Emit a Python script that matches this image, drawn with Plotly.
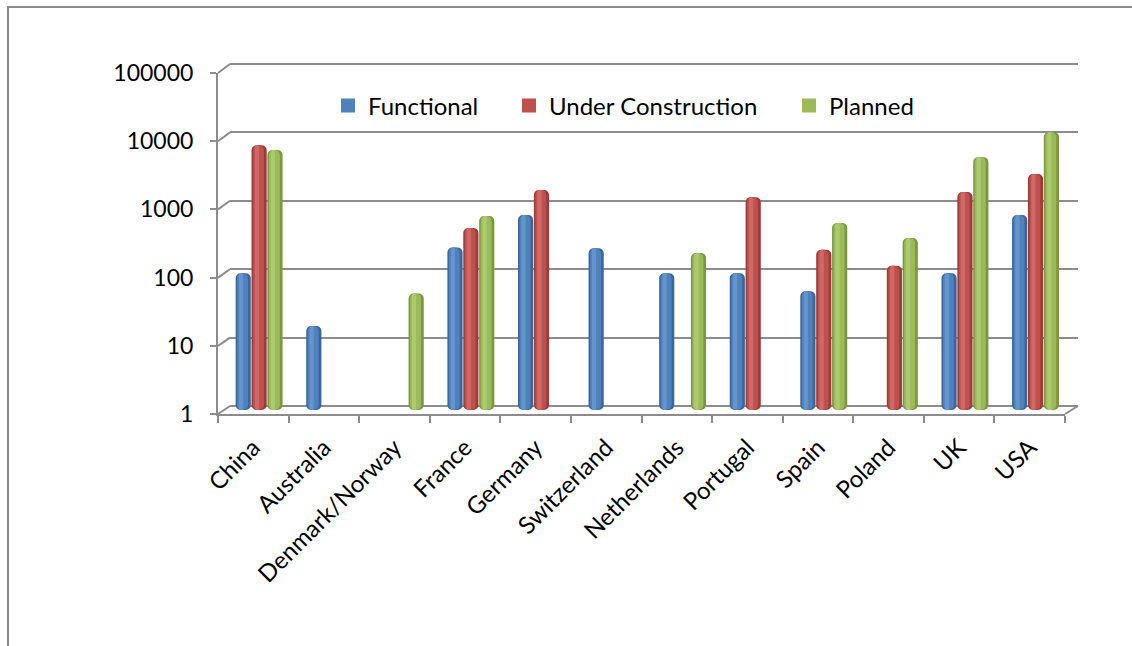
import plotly.graph_objects as go

# ---- data -------------------------------------------------------------
countries = ["China", "Australia", "Denmark/Norway", "France", "Germany",
             "Switzerland", "Netherlands", "Portugal", "Spain", "Poland",
             "UK", "USA"]
functional = [100, 16, None, 240, 720, 235, 100, 100, 54, None, 100, 720]
under_construction = [7600, None, None, 465, 1680, None, None, 1320, 222, 129, 1570, 2880]
planned = [6500, None, 50, 700, None, None, 200, None, 550, 332, 5100, 11900]

y_tickvals = [1, 10, 100, 1000, 10000, 100000]
y_ticktext = ["1", "10", "100", "1000", "10000", "100000"]

series_names = ["Functional", "Under Construction", "Planned"]

# ---- page geometry (pixels) -------------------------------------------
W, H = 1132, 646
FRONT = (218, 1065, 414, 73)   # x-left, x-right, y at 1, y at 100000
BACK = (230, 1078, 406, 64)
MID = (224, 1071, 410, 69)
GRID = "#8c8c8c"
FONT = "Lato"
DECADES = 5
WALL_PAD = 0.05   # extra decades around the back wall so edge gridlines survive


def px(x):
    return x / W


def py(y):
    return 1 - y / H


def xdom(p):
    return [px(p[0]), px(p[1])]


def ydom(p, pad=0.0):
    per_decade = (p[2] - p[3]) / DECADES
    return [py(p[2] + pad * per_decade), py(p[3] - pad * per_decade)]


# cylinder look: dark body, mid face, light highlight
palettes = [
    ("#3a669c", "#4f81bd", "#79a4d9"),
    ("#9c3b38", "#c0504d", "#d9807d"),
    ("#7a9841", "#9bbb59", "#bcd686"),
]
values = [functional, under_construction, planned]
offsets = [-0.335, -0.11, 0.115]
BW = 0.215

fig = go.Figure()

# placeholders so the back-wall and front-axis subplots are created
for xa, ya in (("x2", "y2"), ("x", "y")):
    fig.add_trace(go.Scatter(x=[countries[0]], y=[1], xaxis=xa, yaxis=ya,
                             mode="markers", marker=dict(opacity=0),
                             showlegend=False, hoverinfo="skip"))

legend_ids = ["legend", "legend2", "legend3"]
for i, (name, vals, (dark, mid, light)) in enumerate(zip(series_names, values, palettes)):
    o = offsets[i]
    fig.add_trace(go.Bar(x=countries, y=vals, xaxis="x3", yaxis="y3",
                         width=BW, offset=o, base=1,
                         marker=dict(color=dark, line=dict(width=0), cornerradius=5),
                         showlegend=False, hoverinfo="skip"))
    fig.add_trace(go.Bar(x=countries, y=vals, xaxis="x3", yaxis="y3",
                         width=BW * 0.72, offset=o + BW * 0.1, base=1,
                         name=name,
                         marker=dict(color=mid, line=dict(width=0), cornerradius=5),
                         showlegend=False))
    fig.add_trace(go.Bar(x=countries, y=vals, xaxis="x3", yaxis="y3",
                         width=BW * 0.28, offset=o + BW * 0.22, base=1,
                         marker=dict(color=light, line=dict(width=0), cornerradius=2),
                         opacity=0.55, showlegend=False, hoverinfo="skip"))
    # square legend key
    fig.add_trace(go.Scatter(x=[None], y=[None], xaxis="x3", yaxis="y3",
                             mode="markers", name=name, legend=legend_ids[i],
                             marker=dict(symbol="square", size=14, color=mid),
                             showlegend=True))

# ---- box edges: frame, left wall diagonals, floor diagonal ------------------
shapes = [dict(type="rect", xref="paper", yref="paper",
               x0=px(8), x1=px(W + 20), y0=py(H + 20), y1=py(7),
               line=dict(color="#8a8a8a", width=2), layer="below")]
for k in range(DECADES + 1):
    yf = FRONT[2] - (FRONT[2] - FRONT[3]) * k / DECADES
    yb = BACK[2] - (BACK[2] - BACK[3]) * k / DECADES
    shapes.append(dict(type="line", xref="paper", yref="paper",
                       x0=px(FRONT[0]), y0=py(yf), x1=px(BACK[0]), y1=py(yb),
                       line=dict(color=GRID, width=2), layer="below"))
shapes.append(dict(type="line", xref="paper", yref="paper",
                   x0=px(FRONT[1]), y0=py(FRONT[2]), x1=px(BACK[1]), y1=py(BACK[2]),
                   line=dict(color=GRID, width=2), layer="below"))

legend_text_x = [368, 549, 829]
legends = {}
for lid, tx in zip(legend_ids, legend_text_x):
    legends[lid] = dict(x=px(tx - 40), y=py(106), xanchor="left", yanchor="middle",
                        orientation="h", bgcolor="rgba(0,0,0,0)", borderwidth=0,
                        font=dict(family=FONT, size=24, color="black"))

common = dict(automargin=False, zeroline=False)
fig.update_layout(
    template="none",
    width=W, height=H, autosize=False,
    margin=dict(l=0, r=0, t=0, b=0, pad=0, autoexpand=False),
    paper_bgcolor="white", plot_bgcolor="rgba(0,0,0,0)",
    barmode="overlay",
    font=dict(family=FONT, size=24, color="black"),
    shapes=shapes,
    **legends,
    xaxis=dict(domain=xdom(FRONT), anchor="y", type="category",
               categoryorder="array", categoryarray=countries,
               range=[-0.5, len(countries) - 0.5],
               tickson="boundaries", ticks="outside", ticklen=7, tickwidth=2,
               tickcolor=GRID, showline=True, linecolor=GRID, linewidth=2,
               showgrid=False, tickangle=-45, ticklabelstandoff=8,
               tickfont=dict(family=FONT, size=24, color="black"), **common),
    yaxis=dict(domain=ydom(FRONT), anchor="x", type="log", range=[0, DECADES],
               tickvals=y_tickvals, ticktext=y_ticktext,
               ticks="outside", ticklen=6, tickwidth=2, tickcolor=GRID,
               showline=True, linecolor=GRID, linewidth=2, showgrid=False,
               ticklabelstandoff=12,
               tickfont=dict(family=FONT, size=23, color="black"), **common),
    xaxis2=dict(domain=xdom(BACK), anchor="y2", type="category",
                categoryorder="array", categoryarray=countries,
                range=[-0.5, len(countries) - 0.5],
                showticklabels=False, ticks="", showgrid=False,
                showline=False, **common),
    yaxis2=dict(domain=ydom(BACK, WALL_PAD), anchor="x2", type="log",
                range=[-WALL_PAD, DECADES + WALL_PAD],
                tickvals=y_tickvals, showticklabels=False, ticks="",
                showgrid=True, gridcolor=GRID, gridwidth=2,
                showline=False, **common),
    xaxis3=dict(domain=xdom(MID), anchor="y3", type="category",
                categoryorder="array", categoryarray=countries,
                range=[-0.5, len(countries) - 0.5],
                showticklabels=False, ticks="", showgrid=False,
                showline=False, **common),
    yaxis3=dict(domain=ydom(MID), anchor="x3", type="log", range=[0, DECADES],
                showticklabels=False, ticks="", showgrid=False,
                showline=False, **common),
)

fig.write_html("out.html")
